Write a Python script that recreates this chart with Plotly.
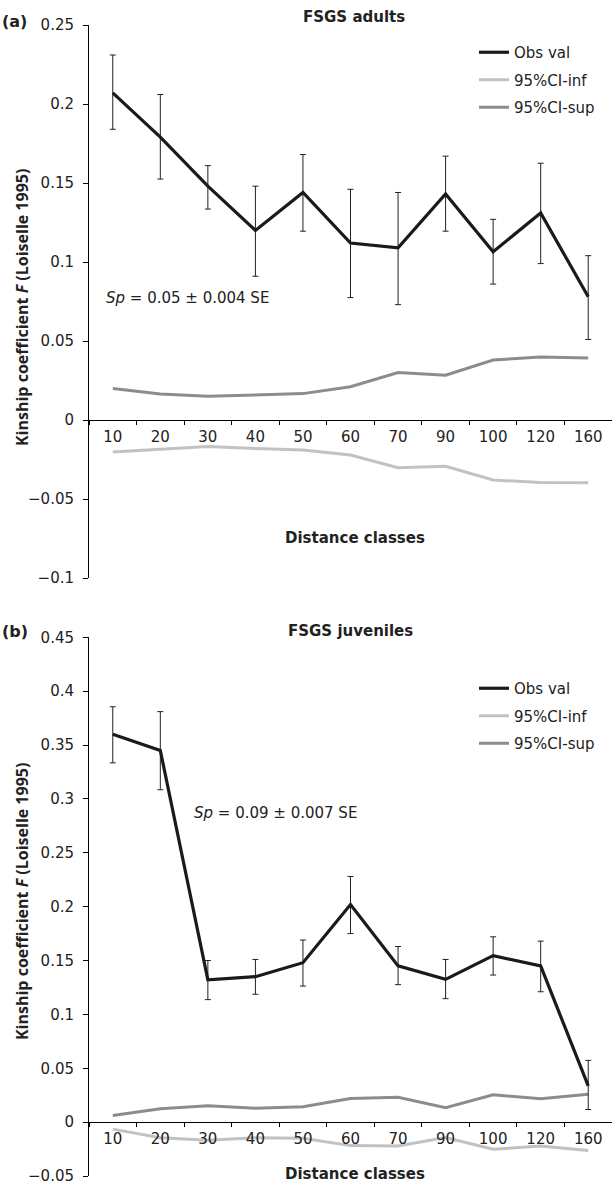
import plotly.graph_objects as go

# ---------------- data ----------------
distance_classes = ["10", "20", "30", "40", "50", "60", "70", "90", "100", "120", "160"]

# (a) adults
adult_obs = [0.207, 0.179, 0.148, 0.120, 0.144, 0.112, 0.109, 0.143, 0.1065, 0.131, 0.078]
adult_err_hi = [0.231, 0.206, 0.161, 0.148, 0.168, 0.146, 0.144, 0.167, 0.127, 0.1625, 0.104]
adult_err_lo = [0.184, 0.1525, 0.1335, 0.091, 0.1195, 0.0775, 0.073, 0.1195, 0.086, 0.099, 0.051]
adult_ci_inf = [-0.0203, -0.0186, -0.0167, -0.0181, -0.0190, -0.0222, -0.0302, -0.0293, -0.0380, -0.0395, -0.0397]
adult_ci_sup = [0.0200, 0.0164, 0.0150, 0.0160, 0.0167, 0.0211, 0.0300, 0.0283, 0.0380, 0.0399, 0.0392]

# (b) juveniles
juv_obs = [0.360, 0.345, 0.132, 0.135, 0.148, 0.202, 0.145, 0.1325, 0.1545, 0.145, 0.0336]
juv_err_hi = [0.3855, 0.381, 0.150, 0.151, 0.169, 0.228, 0.163, 0.151, 0.172, 0.168, 0.0573]
juv_err_lo = [0.3335, 0.3085, 0.1137, 0.1187, 0.1263, 0.175, 0.1276, 0.1146, 0.1365, 0.121, 0.0117]
juv_ci_inf = [-0.0065, -0.0144, -0.0169, -0.0144, -0.0150, -0.0218, -0.0222, -0.0144, -0.0252, -0.0222, -0.0264]
juv_ci_sup = [0.0062, 0.0124, 0.0152, 0.0129, 0.0142, 0.0219, 0.0231, 0.0133, 0.0253, 0.0216, 0.0259]

a_ytick_vals = [-0.1, -0.05, 0, 0.05, 0.1, 0.15, 0.2, 0.25]
a_ytick_text = ["\u22120.1", "\u22120.05", "0", "0.05", "0.1", "0.15", "0.2", "0.25"]
b_ytick_vals = [-0.05, 0, 0.05, 0.1, 0.15, 0.2, 0.25, 0.3, 0.35, 0.4, 0.45]
b_ytick_text = ["\u22120.05", "0", "0.05", "0.1", "0.15", "0.2", "0.25", "0.3", "0.35", "0.4", "0.45"]
a_range = [-0.1, 0.25]
b_range = [-0.05, 0.45]

# ---------------- layout geometry ----------------
W, H = 612, 1185
FONT = "DejaVu Sans"
TFONT = "Open Sans"
TXT_C = "#222222"
x_dom = [89 / W, 1.0]
a_dom = [1 - 578 / H, 1 - 25 / H]
b_dom = [1 - 1176.0 / H, 1 - 637.3 / H]


def zero_pos(dom, rng):
    return dom[0] + (0 - rng[0]) / (rng[1] - rng[0]) * (dom[1] - dom[0])


OBS_C, INF_C, SUP_C = "#1a1a1a", "#c2c2c2", "#8c8c8c"

fig = go.Figure()


def add_panel(obs, hi, lo, inf, sup, xa, ya, legend):
    fig.add_trace(go.Scatter(
        x=distance_classes, y=inf, mode="lines", name="95%CI-inf",
        line=dict(color=INF_C, width=3), xaxis=xa, yaxis=ya, legend=legend,
        legendgroup=legend + "inf", legendrank=2))
    fig.add_trace(go.Scatter(
        x=distance_classes, y=sup, mode="lines", name="95%CI-sup",
        line=dict(color=SUP_C, width=3), xaxis=xa, yaxis=ya, legend=legend,
        legendgroup=legend + "sup", legendrank=3))
    fig.add_trace(go.Scatter(
        x=distance_classes, y=obs, mode="lines", name="Obs val",
        line=dict(color=OBS_C, width=3.2), xaxis=xa, yaxis=ya, legend=legend,
        legendgroup=legend + "obs", legendrank=1,
        error_y=dict(type="data", symmetric=False,
                     array=[h - o for h, o in zip(hi, obs)],
                     arrayminus=[o - l for o, l in zip(obs, lo)],
                     color="#222222", thickness=1, width=3)))


add_panel(adult_obs, adult_err_hi, adult_err_lo, adult_ci_inf, adult_ci_sup, "x", "y", "legend")
add_panel(juv_obs, juv_err_hi, juv_err_lo, juv_ci_inf, juv_ci_sup, "x2", "y2", "legend2")

tickfont = dict(family=FONT, size=15, color=TXT_C)


def xaxis_cfg(dom, rng):
    return dict(domain=x_dom, anchor="free", position=zero_pos(dom, rng),
                type="category", categoryorder="array", categoryarray=distance_classes,
                range=[-0.5, 10.5], tickson="boundaries",
                showline=True, linecolor="black", linewidth=1,
                ticks="outside", ticklen=4, tickcolor="black",
                showgrid=False, zeroline=False, tickfont=tickfont,
                ticklabelstandoff=3, ticklabeloverflow="allow", fixedrange=True)


def yaxis_cfg(dom, rng, vals, text, xa):
    return dict(domain=dom, anchor=xa, range=rng, tickvals=vals, ticktext=text,
                showline=True, linecolor="black", linewidth=1,
                ticks="outside", ticklen=5, tickcolor="black",
                showgrid=False, zeroline=False, tickfont=tickfont,
                ticklabelstandoff=6, ticklabeloverflow="allow", fixedrange=True)


legend_common = dict(font=dict(family=FONT, size=15, color=TXT_C),
                     bgcolor="rgba(0,0,0,0)", borderwidth=0,
                     traceorder="grouped", tracegroupgap=5,
                     xanchor="left", yanchor="top", itemwidth=30)

fig.update_layout(
    width=W, height=H,
    margin=dict(l=0, r=0, t=0, b=0, autoexpand=False),
    paper_bgcolor="white", plot_bgcolor="white",
    font=dict(family=FONT, size=15, color=TXT_C),
    showlegend=True,
    xaxis=xaxis_cfg(a_dom, a_range),
    yaxis=yaxis_cfg(a_dom, a_range, a_ytick_vals, a_ytick_text, "x"),
    xaxis2=xaxis_cfg(b_dom, b_range),
    yaxis2=yaxis_cfg(b_dom, b_range, b_ytick_vals, b_ytick_text, "x2"),
    legend=dict(x=474 / W, y=1 - 36 / H, **legend_common),
    legend2=dict(x=474 / W, y=1 - 672 / H, **legend_common),
)

ann = []


def txt(x, y, text, size=15, bold=False, angle=0, xanchor="center", family=FONT):
    t = f"<b>{text}</b>" if bold else text
    ann.append(dict(x=x / W, y=1 - y / H, xref="paper", yref="paper", text=t,
                    showarrow=False, textangle=angle, xanchor=xanchor, yanchor="middle",
                    font=dict(family=family, size=size, color=TXT_C)))


txt(0, 22, "(a)", size=16, bold=True, xanchor="left")
txt(0, 631, "(b)", size=16, bold=True, xanchor="left")
txt(354, 17, "FSGS adults", size=15, bold=True)
txt(350, 631, "FSGS juveniles", size=15, bold=True)
txt(22, 308, "Kinship coefficient <i>F</i> (Loiselle 1995)", size=16, bold=True, angle=-90, family=TFONT)
txt(22, 902, "Kinship coefficient <i>F</i> (Loiselle 1995)", size=16, bold=True, angle=-90, family=TFONT)
txt(355, 538, "Distance classes", size=15, bold=True)
txt(355, 1174, "Distance classes", size=15, bold=True)
txt(104, 298, "<i>Sp</i> = 0.05 \u00b1 0.004 SE", xanchor="left")
txt(192, 813, "<i>Sp</i> = 0.09 \u00b1 0.007 SE", xanchor="left")
fig.update_layout(annotations=ann)

fig.write_html("out.html", config={"displayModeBar": False},
               post_script="document.body.style.margin='0';document.body.style.overflow='hidden';")
